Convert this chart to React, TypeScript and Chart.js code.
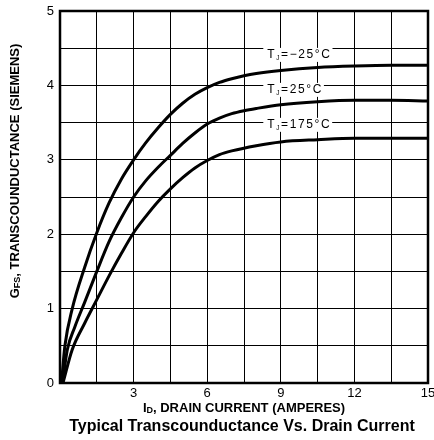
import React, { useEffect, useRef } from "react";
import { Chart, registerables } from "chart.js";

Chart.register(...registerables);

// ---- data ----
const xMinus25 = [0.06, 0.2, 0.5, 1, 1.5, 2, 2.5, 3, 3.5, 4, 4.5, 5, 5.5, 6, 6.5, 7, 7.5, 8, 9, 10.5, 12, 13.5, 15];
const yMinus25 = [0, 0.5, 1.0, 1.55, 2.02, 2.42, 2.74, 3.0, 3.23, 3.43, 3.61, 3.76, 3.88, 3.97, 4.04, 4.09, 4.13, 4.16, 4.2, 4.24, 4.26, 4.27, 4.27];

const x25 = [0.1, 0.3, 0.6, 1, 1.5, 2, 2.5, 3, 3.5, 4, 4.5, 5, 5.5, 6, 6.5, 7, 7.5, 8, 9, 10.5, 12, 13.5, 15];
const y25 = [0, 0.45, 0.75, 1.08, 1.5, 1.9, 2.22, 2.5, 2.72, 2.9, 3.06, 3.22, 3.36, 3.48, 3.56, 3.62, 3.66, 3.69, 3.74, 3.78, 3.8, 3.8, 3.79];

const x175 = [0.12, 0.5, 1, 1.5, 2, 2.5, 3, 3.5, 4, 4.5, 5, 5.5, 6, 6.5, 7, 8, 9, 10.5, 12, 13.5, 15];
const y175 = [0, 0.45, 0.8, 1.12, 1.44, 1.74, 2.02, 2.24, 2.44, 2.61, 2.76, 2.89, 2.99, 3.07, 3.12, 3.19, 3.24, 3.27, 3.29, 3.29, 3.29];

const seriesLabels = ["-25", "25", "175"];
const labelX = [8.45, 8.45, 8.45];
const labelY = [4.41, 3.94, 3.47];

const xTicksShown = [3, 6, 9, 12, 15];
const yTicksShown = [0, 1, 2, 3, 4, 5];

const chartTitle = "Typical Transcounductance Vs. Drain Current";

const FONT = '"Liberation Sans", Arial, sans-serif';

type Part = { t: string; size: number; bold?: boolean; dy?: number };

function partsWidth(ctx: CanvasRenderingContext2D, parts: Part[]) {
  let w = 0;
  for (const p of parts) {
    ctx.font = `${p.bold ? "bold " : ""}${p.size}px ${FONT}`;
    w += ctx.measureText(p.t).width;
  }
  return w;
}

function drawParts(ctx: CanvasRenderingContext2D, parts: Part[], x: number, y: number) {
  let cx = x;
  for (const p of parts) {
    ctx.font = `${p.bold ? "bold " : ""}${p.size}px ${FONT}`;
    ctx.fillText(p.t, cx, y + (p.dy || 0));
    cx += ctx.measureText(p.t).width;
  }
}

const textPlugin = {
  id: "textPlugin",
  beforeDatasetsDraw(chart: any) {
    const { ctx, chartArea } = chart;
    ctx.save();
    ctx.strokeStyle = "#000";
    ctx.lineWidth = 2.5;
    ctx.strokeRect(chartArea.left, chartArea.top, chartArea.right - chartArea.left, chartArea.bottom - chartArea.top);
    ctx.restore();
  },
  afterDatasetsDraw(chart: any) {
    const { ctx, chartArea } = chart;
    const xs = chart.scales.x;
    const ys = chart.scales.y;
    ctx.save();
    ctx.fillStyle = "#000";
    ctx.textBaseline = "middle";
    ctx.textAlign = "left";
    (ctx as any).letterSpacing = "1.6px";

    // series labels
    for (let i = 0; i < seriesLabels.length; i++) {
      const parts: Part[] = [
        { t: "T", size: 12 },
        { t: "J", size: 6.5, dy: 3 },
        { t: "=" + (seriesLabels[i].startsWith("-") ? "\u2212" + seriesLabels[i].slice(1) : seriesLabels[i]) + "\u00B0C", size: 12 },
      ];
      const px = xs.getPixelForValue(labelX[i]);
      const py = ys.getPixelForValue(labelY[i]);
      const w = partsWidth(ctx, parts);
      ctx.fillStyle = "#fff";
      ctx.fillRect(px - 4, py - 7, w + 5, 14);
      ctx.fillStyle = "#000";
      drawParts(ctx, parts, px, py);
    }

    (ctx as any).letterSpacing = "0px";
    // x axis title
    const xParts: Part[] = [
      { t: "I", size: 13, bold: true },
      { t: "D", size: 9, bold: true, dy: 3 },
      { t: ", DRAIN CURRENT (AMPERES)", size: 13, bold: true },
    ];
    const cx = (chartArea.left + chartArea.right) / 2;
    const xw = partsWidth(ctx, xParts);
    drawParts(ctx, xParts, cx - xw / 2, 408);

    // y axis title
    const yParts: Part[] = [
      { t: "G", size: 13, bold: true },
      { t: "FS", size: 9, bold: true, dy: 3 },
      { t: ", TRANSCOUNDUCTANCE (SIEMENS)", size: 13, bold: true },
    ];
    ctx.save();
    ctx.translate(15, 171);
    ctx.rotate(-Math.PI / 2);
    const yw = partsWidth(ctx, yParts);
    drawParts(ctx, yParts, -yw / 2, 0);
    ctx.restore();

    // chart title
    ctx.font = `bold 16px ${FONT}`;
    ctx.textAlign = "center";
    ctx.fillText(chartTitle, cx - 2, 427);
    ctx.restore();
  },
};

function mk(xa: number[], ya: number[]) {
  return xa.map((x, i) => ({ x, y: ya[i] }));
}

export default function App() {
  const ref = useRef<HTMLCanvasElement | null>(null);
  useEffect(() => {
    if (!ref.current) return;
    document.body.style.margin = "0";
    const ds = (data: any) => ({
      data,
      borderColor: "#000",
      borderWidth: 3,
      pointRadius: 0,
      fill: false,
      cubicInterpolationMode: "monotone" as const,
    });
    const chart = new Chart(ref.current, {
      type: "line",
      data: {
        datasets: [ds(mk(xMinus25, yMinus25)), ds(mk(x25, y25)), ds(mk(x175, y175))],
      },
      options: {
        animation: false,
        responsive: false,
        layout: { padding: { top: 11, right: 6, left: 0, bottom: 0 } },
        plugins: { legend: { display: false }, tooltip: { enabled: false }, title: { display: false } },
        scales: {
          x: {
            type: "linear",
            min: 0,
            max: 15,
            ticks: {
              stepSize: 1.5,
              autoSkip: false,
              maxRotation: 0,
              padding: 3,
              color: "#000",
              font: { family: FONT, size: 13 },
              callback: (v: any) => (xTicksShown.includes(Number(v)) ? String(v) : ""),
            },
            grid: { color: "#000", lineWidth: 1, drawTicks: false },
            border: { display: false },
            afterFit: (s: any) => {
              s.height = 57;
              s.paddingLeft = 0;
              s.paddingRight = 0;
            },
          },
          y: {
            type: "linear",
            min: 0,
            max: 5,
            ticks: {
              stepSize: 0.5,
              autoSkip: false,
              padding: 6,
              color: "#000",
              font: { family: FONT, size: 13 },
              callback: (v: any) => (yTicksShown.includes(Number(v)) ? String(v) : ""),
            },
            grid: { color: "#000", lineWidth: 1, drawTicks: false },
            border: { display: false },
            afterFit: (s: any) => {
              s.width = 60;
              s.paddingTop = 0;
              s.paddingBottom = 0;
            },
          },
        },
      },
      plugins: [textPlugin],
    });
    return () => chart.destroy();
  }, []);
  return (
    <div style={{ position: "absolute", left: 0, top: 0, width: 434, height: 440 }}>
      <canvas ref={ref} width={434} height={440} style={{ width: 434, height: 440, display: "block" }} />
    </div>
  );
}
